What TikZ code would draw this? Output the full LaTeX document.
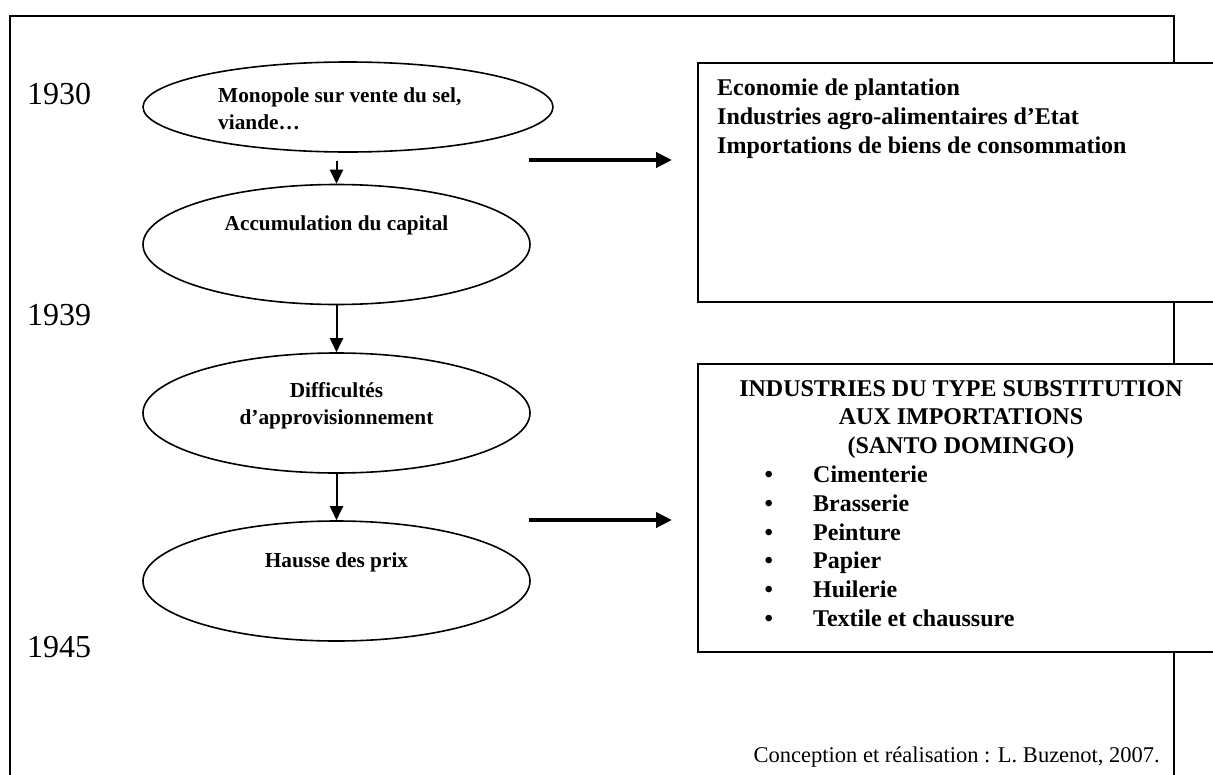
\documentclass[tikz,border=0pt]{standalone}
\usepackage{fontspec}
\setmainfont{Liberation Serif}
\usetikzlibrary{shapes.geometric,arrows.meta}

\tikzset{
  oval/.style={ellipse,draw,line width=1.6pt,inner sep=0pt,minimum width=387pt,minimum height=120pt},
  ovaltxt/.style={inner sep=0pt,font=\fontsize{21.3}{27}\selectfont\bfseries},
  boxtxt/.style={inner sep=0pt,font=\fontsize{24}{28.7}\selectfont\bfseries},
  year/.style={anchor=west,inner sep=0pt,font=\fontsize{32}{38}\selectfont},
  panel/.style={rectangle,draw,fill=white,line width=2.2pt,anchor=north west,inner sep=0pt,minimum width=540pt},
  down/.style={line width=2pt,-{Triangle[length=14pt,width=13pt]}},
  bigarrow/.style={line width=4.5pt,-{Triangle[length=16pt,width=15pt]}}
}
\newcommand{\puce}{\makebox[48.5pt][l]{\textbullet}}

\begin{document}
\begin{tikzpicture}[x=1pt,y=-1pt]
	\useasboundingbox (0,0) rectangle (1213,774);
	\draw[line width=2.5pt] (10,780) -- (10,16) -- (1174,16) -- (1174,780);

	\node[year] (y1930) at (27,94) {1930};
	\node[year] (y1939) at (27,315) {1939};
	\node[year] (y1945) at (27,647) {1945};

	\node[oval,minimum width=410pt,minimum height=90pt] (monop) at (348,107) {};
	\node[oval] (accum) at (336.5,244.5) {};
	\node[oval] (diffic) at (336.5,413) {};
	\node[oval] (hausse) at (336.5,581) {};

	\node[ovaltxt,anchor=north west,align=left] (monoptxt) at (218,88) {Monopole sur vente du sel,\\viande…};
	\node[ovaltxt,anchor=base] (accumtxt) at (336.5,230) {Accumulation du capital};
	\node[ovaltxt,anchor=north,align=center] (diffictxt) at (336.5,382) {Difficultés\\d’approvisionnement};
	\node[ovaltxt,anchor=base] (haussetxt) at (336.5,567) {Hausse des prix};

	\draw[down] ([yshift=-8pt]monop.south -| accum.north) -- (accum.north);
	\draw[down] (accum) -- (diffic);
	\draw[down] (diffic) -- (hausse);

	\node[panel,minimum height=239pt] (planta) at (697,62) {};
	\node[panel,minimum height=288pt] (substit) at (697,363) {};

	\node[boxtxt,anchor=north west,align=left] (plantatxt) at (717,79) {Economie de plantation\\Industries agro-alimentaires d’Etat\\Importations de biens de consommation};
	\node[boxtxt,anchor=north,align=center] (substittxt) at (961,380) {INDUSTRIES DU TYPE SUBSTITUTION\\AUX IMPORTATIONS\\(SANTO DOMINGO)};
	\node[boxtxt,anchor=north west,align=left] (substitlist) at (764.5,466) {\puce Cimenterie\\\puce Brasserie\\\puce Peinture\\\puce Papier\\\puce Huilerie\\\puce Textile et chaussure};

	\coordinate (from1) at (529,160);
	\coordinate (from2) at (529,520);
	\draw[bigarrow,shorten >=25pt] (from1) -- (from1 -| planta.west);
	\draw[bigarrow,shorten >=25pt] (from2) -- (from2 -| substit.west);

	\node[anchor=base east,inner sep=0pt,font=\fontsize{22.5}{26}\selectfont] (credit) at (1160,762) {Conception et réalisation : L. Buzenot, 2007.};
\end{tikzpicture}
\end{document}
